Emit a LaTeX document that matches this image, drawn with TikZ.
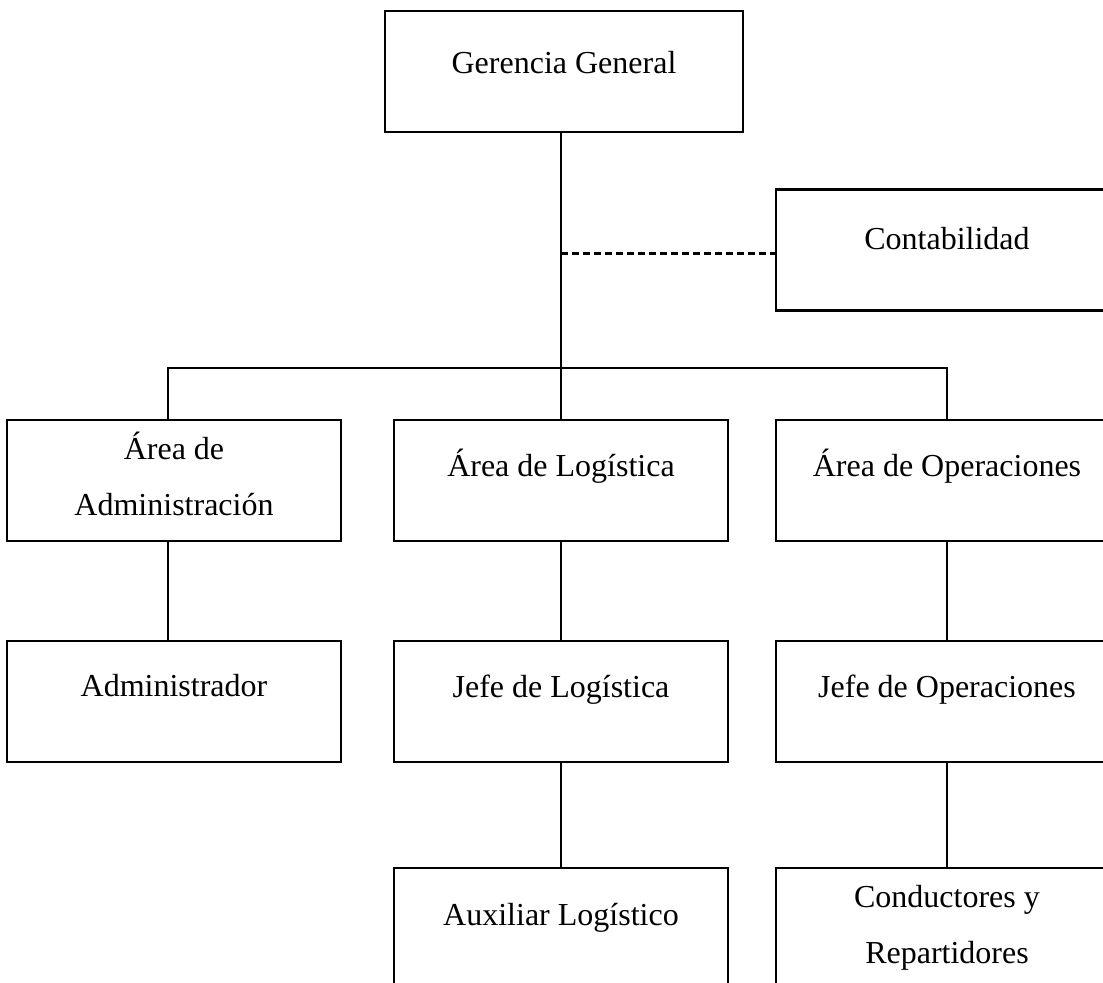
\documentclass[tikz,border=0pt]{standalone}
\usepackage{fontspec}
\setmainfont{Liberation Serif}
\usepackage{tikz}
\usetikzlibrary{positioning}

\begin{document}
\begin{tikzpicture}[
x=0.5pt, y=-0.5pt,
node distance=50pt,
orgbox/.style={rectangle, draw=black, line width=1.4pt, outer sep=0pt, minimum width=167pt, minimum height=60.5pt},
sidebox/.style={orgbox, minimum width=171pt},
topbox/.style={orgbox, minimum width=179pt},
boxtext/.style={align=center, inner sep=0pt, font=\fontsize{16}{28}\selectfont},
link/.style={line width=1.4pt},
dashlink/.style={line width=1.5pt, dash pattern=on 3.5pt off 2pt},
]
\useasboundingbox (0,0) rectangle (1103,983);
\clip (0,0) rectangle (1103,983);

%Nodes
\node[topbox]		(gg)		at (564,71.5)			{};
\node[sidebox]		(cont)		at (947,250)			{};
\node[orgbox]		(log)		at (561,480.5)			{};
\node[orgbox]		(admin)		[left=26.5pt of log]	{};
\node[sidebox]		(op)		[right=24pt of log]		{};
\node[orgbox]		(adm)		[below=of admin]		{};
\node[orgbox]		(jlog)		[below=of log]			{};
\node[sidebox]		(jop)		[below=of op]			{};
\node[orgbox]		(aux)		[below=53pt of jlog]	{};
\node[sidebox]		(cond)		[below=53pt of jop]		{};
\coordinate			(bus)		at ([yshift=26pt]log.north);
\coordinate			(admtop)	at ([xshift=-3pt]admin.north);
\coordinate			(admbot)	at ([xshift=-3pt]admin.south);

%Texts
\node[boxtext]	(gg-t)		at ([yshift=4.5pt]gg.center)	{Gerencia General};
\node[boxtext]	(cont-t)	at ([yshift=5.5pt]cont.center)	{Contabilidad};
\node[boxtext]	(admin-t)	at ([yshift=3.2pt]admin.center)	{Área de\\Administración};
\node[boxtext]	(log-t)		at ([yshift=7.2pt]log.center)	{Área de Logística};
\node[boxtext]	(op-t)		at ([yshift=7.2pt]op.center)	{Área de Operaciones};
\node[boxtext]	(adm-t)		at ([yshift=8.2pt]adm.center)	{Administrador};
\node[boxtext]	(jlog-t)	at ([yshift=6pt]jlog.center)	{Jefe de Logística};
\node[boxtext]	(jop-t)		at ([yshift=6pt]jop.center)		{Jefe de Operaciones};
\node[boxtext]	(aux-t)		at ([yshift=5.5pt]aux.center)	{Auxiliar Logístico};
\node[boxtext]	(cond-t)	at ([yshift=0.5pt]cond.center)	{Conductores y\\Repartidores};

%Lines
\draw[link] (gg.south -| log.north) -- (log.north);
\draw[dashlink] ([yshift=-2pt]cont.west -| log.north) -- ([yshift=-2pt]cont.west);
\draw[link] (admtop) |- (bus) -| (op.north);
\draw[link] (admbot) -- (admbot |- adm.north);
\draw[link] (log.south) -- (jlog.north);
\draw[link] (jlog.south) -- (aux.north);
\draw[link] (op.south) -- (jop.north);
\draw[link] (jop.south) -- (cond.north);
\end{tikzpicture}
\end{document}
